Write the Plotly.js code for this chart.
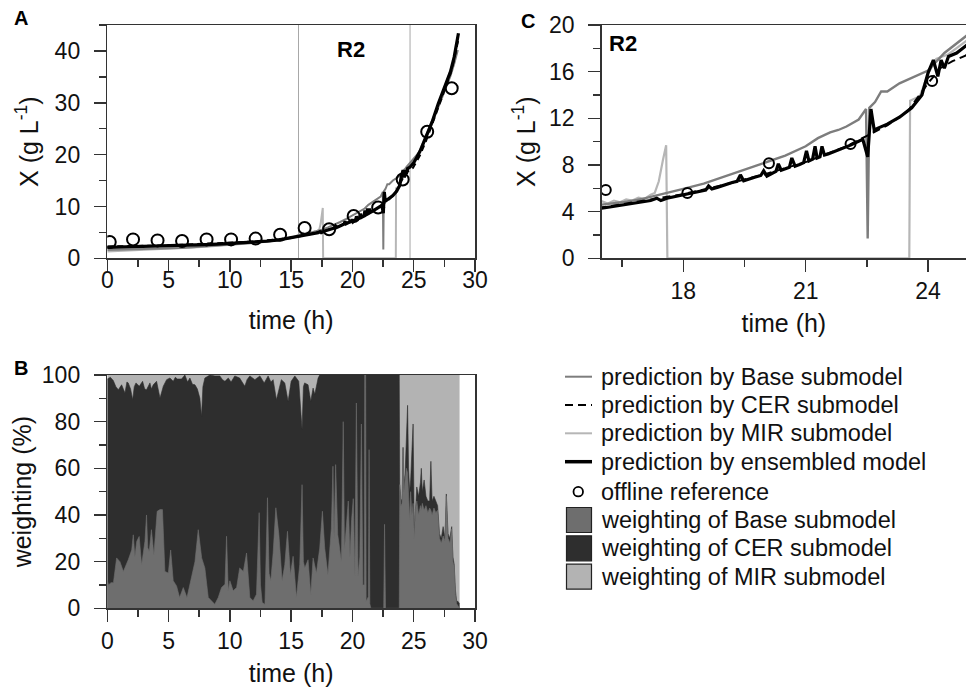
<!DOCTYPE html>
<html>
<head>
<meta charset="utf-8">
<script src="https://cdn.plot.ly/plotly-3.0.1.min.js"></script>
<style>html,body{margin:0;padding:0;background:#fff;}#chart{width:966px;height:687px;}</style>
</head>
<body>
<div id="chart"></div>
<script>
// ---------- DATA ----------
// Offline reference samples
const offT = [0.2, 2.1, 4.1, 6.1, 8.1, 10.1, 12.1, 14.1, 16.1, 18.1, 20.1, 22.1, 24.1, 26.1, 28.1];
const offX = [3.15, 3.65, 3.45, 3.35, 3.65, 3.65, 3.8, 4.55, 5.85, 5.6, 8.15, 9.8, 15.2, 24.4, 32.8];

// Prediction by ensembled model
const ensT = [0,1,2,3,4,5,6,7,8,9,
  10,11,12,13,14,15,15.5,16,16.2,16.4,
  16.6,16.8,17,17.2,17.35,17.45,17.6,17.8,18,18.2,
  18.4,18.55,18.62,18.7,18.85,19,19.2,19.32,19.4,19.48,
  19.6,19.75,19.9,19.97,20.05,20.2,20.27,20.33,20.4,20.52,
  20.6,20.66,20.74,20.85,20.95,21.02,21.08,21.17,21.23,21.28,
  21.35,21.4,21.46,21.55,21.8,22.1,22.4,22.52,22.6,22.68,
  22.8,23,23.3,23.6,23.85,24,24.13,24.24,24.32,24.4,
  24.5,24.7,25,25.5,26,26.5,27,27.5,28,28.3,
  28.5,28.65];
const ensX = [2.1,2.15,2.2,2.25,2.3,2.35,2.45,2.55,2.65,2.75,
  2.85,3.0,3.15,3.3,3.55,3.95,4.1,4.3,4.4,4.5,
  4.6,4.7,4.85,4.95,5.15,4.95,5.15,5.3,5.45,5.6,
  5.75,5.85,6.2,5.95,6.1,6.3,6.5,6.6,7.15,6.65,
  6.8,6.95,7.1,7.5,7.05,7.35,7.45,8.1,7.55,7.7,
  7.8,8.6,7.9,8.05,8.2,9.2,8.35,8.5,9.6,8.6,
  8.7,9.6,8.85,8.95,9.3,9.7,10.2,8.7,12.8,11.0,
  11.2,11.5,12.1,12.9,14.0,15.9,17.0,15.6,17.0,16.3,
  17.3,17.6,18.4,20.6,23.3,26.3,29.8,33.0,36.0,38.8,
  41.5,43.4];

// Prediction by Base submodel
const baseT = [0,1,2,3,4,5,6,7,8,9,
  10,11,12,13,14,15,15.5,16,16.5,17,
  17.5,18,18.5,19,19.5,20,20.5,21,21.3,21.6,
  21.8,22,22.3,22.48,22.52,22.56,22.7,22.85,23.0,23.3,
  23.6,24,24.4,24.93,25.5,26,26.5,27,27.5,28,
  28.3,28.6];
const baseX = [1.6,1.65,1.7,1.8,1.9,1.95,2.0,2.15,2.3,2.45,
  2.6,2.8,3.0,3.25,3.5,3.9,4.2,4.6,4.8,5.1,
  5.5,5.95,6.4,7.0,7.6,8.25,8.8,9.6,10.3,10.8,
  11.0,11.3,11.9,12.8,1.7,12.9,13.4,14.3,14.3,15.0,
  15.5,16.1,17.6,19.1,20.6,23.0,26.0,29.0,32.0,35.2,
  37.5,40.2];

// Prediction by CER submodel
const cerT = [0,2,4,6,8,10,12,14,15,16,
  17,18,19,20,21,22,22.5,23,23.5,24,
  24.3,24.6,24.93,25.5,26,26.5,27,27.5,28,28.3,
  28.65];
const cerX = [2.3,2.35,2.45,2.6,2.8,3.0,3.25,3.65,3.95,4.35,
  4.9,5.5,6.3,7.2,8.25,9.6,10.5,11.4,12.6,15.0,
  16.3,16.9,17.4,19.8,22.6,25.8,29.2,32.4,35.6,38.3,
  42.3];

// Prediction by MIR submodel
const mirT = [0,1,2,3,4,5,6,7,8,9,
  10,11,12,13,14,15,15.5,16,16.15,16.3,
  16.45,16.6,16.75,16.9,17.05,17.2,17.3,17.4,17.5,17.58,
  17.61,23.54,23.56,23.8,24.0,24.2,24.5,25.0,25.5,26,
  26.5,27,27.5,28,28.3,28.6];
const mirX = [1.3,1.4,1.5,1.65,1.75,1.85,1.95,2.1,2.25,2.4,
  2.55,2.75,2.95,3.2,3.5,3.95,4.4,4.9,4.7,4.95,
  4.8,5.05,4.95,5.2,5.1,5.45,5.6,6.6,8.4,9.7,
  0,0,13.5,13.9,15.8,17.1,17.5,18.8,20.8,23.5,
  26.5,29.6,32.8,36.2,38.5,42.0];

// Zoom window boundaries marked in panel A
const zoomMarks = [15.6, 24.7];

// Weighting (%): upper edge of Base share, upper edge of Base+CER share, total
const wBaseT = [0,0.1,0.3,0.5,0.76,1.03,1.31,1.5,1.71,1.99,
  2.12,2.25,2.4,2.6,2.8,3.07,3.2,3.3,3.42,3.6,
  3.8,4.07,4.3,4.5,4.6,4.7,4.98,5.17,5.38,5.65,
  5.9,6.2,6.5,6.8,7.15,7.42,7.7,7.96,8.24,8.5,
  8.77,9.05,9.32,9.6,9.73,9.87,10.0,10.27,10.55,10.8,
  11.1,11.36,11.63,11.9,12.17,12.39,12.5,12.64,12.86,13.07,
  13.2,13.34,13.53,13.75,14.0,14.26,14.48,14.7,14.94,15.16,
  15.43,15.7,15.89,16.0,16.11,16.38,16.6,16.79,17.06,17.33,
  17.55,17.74,18.0,18.28,18.41,18.5,18.63,18.8,19.1,19.25,
  19.35,19.5,19.66,19.8,19.93,20.07,20.2,20.32,20.46,20.6,
  20.73,20.85,20.97,21.0,21.08,21.12,21.3,21.36,21.42,21.5,
  22.55,22.62,22.7,23.82,23.86,23.95,24.05,24.13,24.2,24.3,
  24.4,24.5,24.58,24.67,24.75,24.85,24.95,25.05,25.15,25.25,
  25.4,25.55,25.62,25.7,25.85,26.0,26.15,26.3,26.4,26.5,
  26.65,26.8,26.95,27.1,27.25,27.4,27.55,27.66,27.8,27.95,
  28.1,28.2,28.3,28.4,28.5,28.6,28.74];
const wBaseTop = [12,10,11,11,21.6,20,15.8,18,20.8,25,
  31.5,22,28.7,30.8,18.7,28.7,40,26,24.4,33.7,
  23,41.6,42.3,42.3,30,15.8,15.1,25,11.8,9.6,
  4.6,8.9,4.6,11.8,20,33.7,21.6,17.3,4.6,3.2,
  1.7,4.6,8.9,10.3,30.9,7.5,11.8,7.5,8.9,17.3,
  15.8,23.7,4.6,3.2,6,41,10,2.5,1.7,47.4,
  15,11.8,23.7,43.1,31.6,11.8,18.7,33,14.4,22.3,
  4.6,18.7,53,20,17.3,20.8,6,21.6,15.1,25.8,
  41.6,25.8,14.4,34.4,60.9,30,61.6,31.6,20.1,80,
  25,35,46,22,38,47,14,88,14,22,
  79,10,10,100,100,3,5,68,2,0,
  0,36,0,0,53,44,45,68,50,55,
  60,58,45,38,50,40,45,30,42,46,
  40,44,42,45,42,44,41,43,42,40,
  43,41,42,30,28,31,29,48,30,28,
  34,20,18,6,2,1,0];

const wCerT = [0,0.25,0.49,0.7,0.9,1.17,1.44,1.6,1.71,1.9,
  2.07,2.2,2.34,2.61,2.88,3.05,3.2,3.48,3.6,3.75,
  4.02,4.15,4.3,4.57,4.84,5.11,5.38,5.55,5.71,6.06,
  6.33,6.55,6.74,6.95,7.15,7.35,7.55,7.69,7.8,7.96,
  8.37,8.78,9.18,9.4,9.6,9.87,10.1,10.4,10.8,11.0,
  11.22,11.4,11.63,12.04,12.45,12.8,13.12,13.35,13.53,13.8,
  14.0,14.2,14.48,14.75,15.0,15.3,15.62,15.89,16.0,16.1,
  16.38,16.6,16.79,16.93,17.2,17.33,23.82,23.86,23.95,24.05,
  24.13,24.2,24.3,24.4,24.5,24.58,24.67,24.75,24.85,24.95,
  25.05,25.15,25.25,25.4,25.55,25.62,25.7,25.85,26.0,26.15,
  26.3,26.4,26.5,26.65,26.8,26.95,27.1,27.25,27.4,27.55,
  27.66,27.8,27.95,28.1,28.2,28.3,28.4,28.5,28.6,28.74];
const wCerTop = [98.3,99,97.6,95,93.7,95.8,92.3,97,96.6,94,
  89.4,95,96.6,95.2,97.3,94,93.7,96.6,94,95.8,
  97.3,93,90.1,95.2,98,98.7,97.3,99,98.3,98.3,
  100,97,98.7,96,95.8,94,90.1,82.3,95,98.7,
  100,99.6,99.6,98,97.3,98.7,97,99.6,98.7,97,
  95.2,98,99.6,98,99.6,96.6,99.6,97,98,89.4,
  94.4,98,96.6,88.7,97.3,99.6,97.3,76.6,95,96.6,
  95.8,88.7,94.4,91.7,98.7,100,100,53,47,46,
  69,52,58,70,87,60,50,55,65,79,
  32,44,52,48,54,60,50,55,48,46,
  46,63,46,48,46,44,32,30,35,30,
  49,32,30,35,22,19,8,3,3,2];

const wTotalT = [0, 28.74];
const wTotal = [100, 100];

// Text
const legendLabels = ['prediction by Base submodel','prediction by CER submodel','prediction by MIR submodel',
  'prediction by ensembled model','offline reference','weighting of Base submodel',
  'weighting of CER submodel','weighting of MIR submodel'];
const panelLabels = ['A','B','C'];
const runLabel = 'R2';

// ---------- STYLE ----------
const W = 966, H = 687;
const FONT = 'Liberation Sans, Arial, Helvetica, sans-serif';
const cBase = '#7d7d7d', cMir = '#b6b6b6', cBlack = '#000000';
const fBase = '#6e6e6e', fCer = '#2e2e2e', fMir = '#b3b3b3';
const px = v => v / W;
const py = v => 1 - v / H;

function lineTrace(x, y, xa, ya, color, width, dash) {
  return {type:'scatter', mode:'lines', x:x, y:y, xaxis:xa, yaxis:ya,
    line:{color:color, width:width, dash:dash||'solid'}, hoverinfo:'skip'};
}
function offTrace(xa, ya, size) {
  return {type:'scatter', mode:'markers', x:offT, y:offX, xaxis:xa, yaxis:ya,
    marker:{symbol:'circle-open', size:size, color:'#000', line:{width:2, color:'#000'}}, hoverinfo:'skip'};
}
function areaTrace(x, y, color) {
  return {type:'scatter', mode:'lines', x:x, y:y, xaxis:'x3', yaxis:'y3', fill:'tozeroy',
    fillcolor:color, line:{color:color, width:0.6}, hoverinfo:'skip'};
}

const traces = [
  // Panel A
  lineTrace(mirT, mirX, 'x', 'y', cMir, 2),
  lineTrace(baseT, baseX, 'x', 'y', cBase, 2),
  lineTrace(cerT, cerX, 'x', 'y', cBlack, 2, '6px,4px'),
  lineTrace(ensT, ensX, 'x', 'y', cBlack, 3.2),
  offTrace('x', 'y', 12),
  // Panel C
  lineTrace(mirT, mirX, 'x2', 'y2', cMir, 2.2),
  lineTrace(baseT, baseX, 'x2', 'y2', cBase, 2.4),
  lineTrace(cerT, cerX, 'x2', 'y2', cBlack, 2, '8px,5px'),
  lineTrace(ensT, ensX, 'x2', 'y2', cBlack, 3.2),
  offTrace('x2', 'y2', 10),
  // Panel B
  areaTrace(wTotalT, wTotal, fMir),
  areaTrace(wCerT, wCerTop, fCer),
  areaTrace(wBaseT, wBaseTop, fBase)
];

const tickFont = {family:FONT, size:23, color:'#111'};
const titleFont = {family:FONT, size:25, color:'#111'};
const minorTicks = d => ({dtick:d, ticks:'outside', ticklen:7, tickcolor:'#333', tickwidth:1.5});
function axis(extra) {
  return Object.assign({showline:true, linecolor:'#333', linewidth:1.5, ticks:'outside', ticklen:12,
    tickcolor:'#333', tickwidth:1.5, tickfont:tickFont, showgrid:false, zeroline:false,
    mirror:true, fixedrange:true}, extra);
}

const yDomTop = [py(258.3), py(25)];
const yDomB = [py(608.3), py(375)];
const xDomA = [px(107.3), px(475)];

const layout = {
  width:W, height:H, margin:{l:0, r:0, t:0, b:0}, showlegend:false,
  paper_bgcolor:'#fff', plot_bgcolor:'rgba(0,0,0,0)',
  xaxis: axis({domain:xDomA, range:[0,30], tick0:0, dtick:5, minor:minorTicks(2.5), anchor:'y',
    ticklabelstandoff:-11, title:{text:'time (h)', font:titleFont, standoff:19}}),
  yaxis: axis({domain:yDomTop, range:[0,45], tick0:0, dtick:10, minor:minorTicks(5), anchor:'x',
    ticklabelstandoff:9, title:{text:'X (g L<sup>-1</sup>)', font:titleFont, standoff:9}}),
  xaxis2: axis({domain:[px(601.7), 1], range:[16,24.93], tick0:0, dtick:3, minor:minorTicks(1.5), anchor:'y2',
    title:{text:'time (h)', font:titleFont, standoff:11}}),
  yaxis2: axis({domain:yDomTop, range:[0,20], tick0:0, dtick:4, minor:minorTicks(2), anchor:'x2', mirror:false,
    ticklabelstandoff:9, title:{text:'X (g L<sup>-1</sup>)', font:titleFont, standoff:6}}),
  xaxis3: axis({domain:xDomA, range:[0,30], tick0:0, dtick:5, minor:minorTicks(2.5), anchor:'y3',
    title:{text:'time (h)', font:titleFont, standoff:13}}),
  yaxis3: axis({domain:yDomB, range:[0,100], tick0:0, dtick:20, minor:minorTicks(10), anchor:'x3',
    ticklabelstandoff:9, title:{text:'weighting (%)', font:titleFont, standoff:3}}),
  shapes: [],
  annotations: []
};

// zoom-window marks in panel A
zoomMarks.forEach(t => layout.shapes.push({type:'line', xref:'x', yref:'y domain', x0:t, x1:t, y0:0, y1:1,
  line:{color:'#a8a8a8', width:1}, layer:'below'}));

// panel letters and run labels
const letterPos = [[21,18],[21,368],[528,21]];
panelLabels.forEach((s,i) => layout.annotations.push({text:'<b>'+s+'</b>', xref:'paper', yref:'paper',
  x:px(letterPos[i][0]), y:py(letterPos[i][1]), showarrow:false, xanchor:'center', yanchor:'middle',
  font:{family:FONT, size:20, color:'#000'}}));
[[351,49.5],[622.5,43.5]].forEach(p => layout.annotations.push({text:'<b>'+runLabel+'</b>', xref:'paper', yref:'paper',
  x:px(p[0]), y:py(p[1]), showarrow:false, xanchor:'center', yanchor:'middle',
  font:{family:FONT, size:22, color:'#000'}}));

// legend (drawn in paper space)
const rowY = [376.7, 405, 433.3, 461.7, 491.7, 520, 548.3, 576.7];
const symX0 = 565, symX1 = 592, textX = 599;
const lineStyles = [[cBase,2,'solid'],[cBlack,2,'8px,5px'],[cMir,2,'solid'],[cBlack,3.5,'solid']];
lineStyles.forEach((s,i) => layout.shapes.push({type:'line', xref:'paper', yref:'paper',
  x0:px(symX0), x1:px(symX1), y0:py(rowY[i]), y1:py(rowY[i]), line:{color:s[0], width:s[1], dash:s[2]}}));
layout.shapes.push({type:'circle', xref:'paper', yref:'paper', x0:px(573.5), x1:px(583), y0:py(rowY[4]-4.75), y1:py(rowY[4]+4.75),
  line:{color:'#000', width:1.8}});
[fBase, fCer, fMir].forEach((c,k) => layout.shapes.push({type:'rect', xref:'paper', yref:'paper',
  x0:px(566.5), x1:px(591.5), y0:py(rowY[5+k]-12.5), y1:py(rowY[5+k]+12.5), fillcolor:c, line:{color:'#222', width:1.2}}));
legendLabels.forEach((s,i) => layout.annotations.push({text:s, xref:'paper', yref:'paper', x:px(textX), y:py(rowY[i]),
  showarrow:false, xanchor:'left', yanchor:'middle', font:{family:FONT, size:23.5, color:'#111'}}));

Plotly.newPlot('chart', traces, layout, {staticPlot:true, displayModeBar:false});
</script>
</body>
</html>
